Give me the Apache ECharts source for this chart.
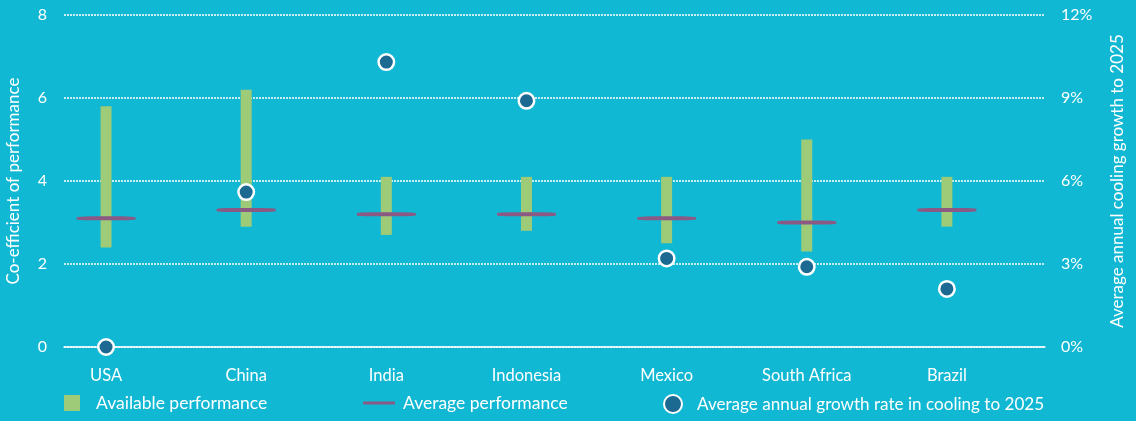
<!DOCTYPE html>
<html>
<head>
<meta charset="utf-8">
<script src="https://cdn.jsdelivr.net/npm/echarts@6/dist/echarts.min.js"></script>
<style>
  html, body { margin: 0; padding: 0; background: #10B8D3; }
  #chart { width: 1136px; height: 421px; }
</style>
</head>
<body>
<div id="chart"></div>
<script>
// chart data
const countries = ['USA', 'China', 'India', 'Indonesia', 'Mexico', 'South Africa', 'Brazil'];
const perfLow = [2.4, 2.9, 2.7, 2.8, 2.5, 2.3, 2.9];
const perfHigh = [5.8, 6.2, 4.1, 4.1, 4.1, 5.0, 4.1];
const perfAvg = [3.1, 3.3, 3.2, 3.2, 3.1, 3.0, 3.3];
const growthRate = [0, 5.6, 10.3, 8.9, 3.2, 2.9, 2.1];

const white = '#FFFFFF';
const font = 'Lato';

let chart = echarts.init(document.getElementById('chart'));

// index positions for the value x axis
const idx = countries.map((c, i) => i);

chart.setOption({
  backgroundColor: '#10B8D3',
  textStyle: { fontFamily: font },
  grid: { left: 64, right: 91, top: 15, bottom: 74, outerBoundsMode: 'none' },
  xAxis: {
    type: 'value',
    min: -0.3,
    max: 6.7,
    axisLine: { show: true, lineStyle: { color: white, width: 1.5 } },
    axisTick: { show: false },
    splitLine: { show: false },
    axisLabel: {
      customValues: idx,
      formatter: (v) => countries[Math.round(v)],
      color: white,
      fontSize: 16.5,
      fontFamily: font,
      margin: 20
    }
  },
  yAxis: [
    {
      type: 'value',
      min: 0,
      max: 8,
      interval: 2,
      name: 'Co-efficient of performance',
      nameLocation: 'middle',
      nameGap: 42,
      nameRotate: 90,
      nameTextStyle: { color: white, fontSize: 17, fontFamily: font },
      axisLine: { show: false },
      axisTick: { show: false },
      axisLabel: { color: white, fontSize: 16, fontFamily: font, margin: 17 },
      splitLine: { lineStyle: { color: white, width: 1.5, type: [2, 1] } }
    },
    {
      type: 'value',
      min: 0,
      max: 12,
      interval: 3,
      position: 'right',
      name: 'Average annual cooling growth to 2025',
      nameLocation: 'middle',
      nameGap: 64,
      nameRotate: 90,
      nameTextStyle: { color: white, fontSize: 17, fontFamily: font },
      axisLine: { show: false },
      axisTick: { show: false },
      axisLabel: { color: white, fontSize: 16, fontFamily: font, margin: 16, formatter: '{value}%' },
      splitLine: { show: false }
    }
  ],
  legend: [
    {
      left: 64, top: 394, padding: 0,
      itemWidth: 16, itemHeight: 16,
      textStyle: { color: white, fontSize: 17.5, fontFamily: font, padding: [0, 0, 0, 11] },
      data: [{ name: 'Available performance', icon: 'rect' }]
    },
    {
      left: 363, top: 394, padding: 0,
      itemWidth: 32, itemHeight: 3,
      textStyle: { color: white, fontSize: 17.5, fontFamily: font, padding: [0, 0, 0, 3] },
      data: [{ name: 'Average performance', icon: 'roundRect' }]
    },
    {
      left: 663, top: 394, padding: 0,
      itemWidth: 18, itemHeight: 18,
      textStyle: { color: white, fontSize: 17.1, fontFamily: font, padding: [0, 0, 0, 10] },
      data: [{ name: 'Average annual growth rate in cooling to 2025', icon: 'circle' }]
    }
  ],
  series: [
    {
      name: 'Available performance',
      type: 'custom',
      yAxisIndex: 0,
      itemStyle: { color: '#9DCB77' },
      data: idx.map(i => [i, perfLow[i], perfHigh[i]]),
      encode: { x: 0, y: [1, 2] },
      renderItem: function (params, api) {
        let lo = api.coord([api.value(0), api.value(1)]);
        let hi = api.coord([api.value(0), api.value(2)]);
        let w = 11;
        return {
          type: 'rect',
          shape: { x: lo[0] - w / 2, y: hi[1], width: w, height: lo[1] - hi[1] },
          style: { fill: '#9DCB77' }
        };
      },
      z: 2
    },
    {
      name: 'Average performance',
      type: 'scatter',
      yAxisIndex: 0,
      symbol: 'roundRect',
      symbolSize: [59, 4],
      itemStyle: { color: '#8A5A84', opacity: 1 },
      data: idx.map(i => [i, perfAvg[i]]),
      z: 3
    },
    {
      name: 'Average annual growth rate in cooling to 2025',
      type: 'scatter',
      yAxisIndex: 1,
      symbol: 'circle',
      symbolSize: 15.5,
      itemStyle: { color: '#1C6A92', borderColor: white, borderWidth: 2.5, opacity: 1 },
      data: idx.map(i => [i, growthRate[i]]),
      z: 4
    }
  ]
});
</script>
</body>
</html>
